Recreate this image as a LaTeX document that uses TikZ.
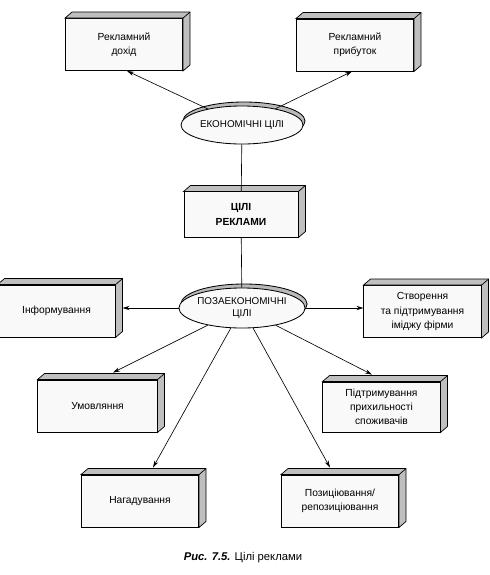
\documentclass[tikz,border=0pt]{standalone}
\usepackage{fontspec}
\setmainfont{Liberation Sans}
\usetikzlibrary{arrows.meta,shapes.geometric,shadows}
\newcommand\slab[1]{\filldraw[side] (#1.north west)--([shift={(7,-6)}]#1.north west)--([shift={(7,-6)}]#1.north east)--([shift={(7,-6)}]#1.south east)--(#1.south east)--(#1.north east)--cycle;
\draw[line width=.5pt] (#1.north east)--([shift={(7,-6)}]#1.north east);}
\begin{document}
\begin{tikzpicture}[x=.025cm,y=-.025cm,
  box/.style={draw,fill=gray!5,line width=.6pt,align=center,inner sep=1pt,font=\fontsize{7.3}{10}\selectfont,minimum width=2.93cm,minimum height=1.3cm},
  goal/.style={ellipse,draw,fill=gray!5,line width=.6pt,inner sep=0pt,align=center,font=\fontsize{7}{9}\selectfont,minimum width=3.05cm,copy shadow={shadow xshift=.5mm,shadow yshift=1mm,fill=gray!55}},
  arr/.style={-{Stealth[length=5pt,width=3pt]},line width=.45pt},
  side/.style={fill=gray!50,draw,line width=.5pt}]
\useasboundingbox (0,0) rectangle (490,575);
\node[goal,minimum height=.95cm] (ekon) at (242,125) {ЕКОНОМІЧНІ ЦІЛІ};
\node[goal,minimum height=1cm] (pozaek) at (242,308) {ПОЗАЕКОНОМІЧНІ\\ЦІЛІ};
\node[box] (dohid) at (124,44.5) {Рекламний\\дохід};\slab{dohid}
\node[box] (prybut) at (355,45) {Рекламний\\прибуток};\slab{prybut}
\node[box,minimum width=2.85cm,minimum height=1.13cm,font=\bfseries\fontsize{7.3}{10}\selectfont] (tsili) at (241,214.5) {ЦІЛІ\\РЕКЛАМИ};\slab{tsili}
\node[box] (inform) at (56.5,311) {Інформування};\slab{inform}
\node[box] (stvor) at (422.5,311.5) {Створення\\та підтримування\\іміджу фірми};\slab{stvor}
\node[box,minimum width=2.98cm] (umovl) at (97.5,406) {Умовляння};\slab{umovl}
\node[box,minimum height=1.25cm] (pidtr) at (381.5,407) {Підтримування\\прихильності\\споживачів};\slab{pidtr}
\node[box] (nagad) at (140,501) {Нагадування};\slab{nagad}
\node[box] (pozit) at (340,501) {Позиціювання/\\репозиціювання};\slab{pozit}
\coordinate (inform-r) at ([shift={(7,0)}]inform.east);
\draw[line width=.45pt] (ekon)--(tsili);\draw[line width=.45pt] (tsili)--(pozaek);
\draw[arr] (ekon)--([shift={(3,0)}]dohid.south);
\draw[arr] (ekon)--([shift={(-3,0)}]prybut.south);
\draw[arr] (pozaek.west)--(pozaek.west-|inform-r);
\draw[arr] (pozaek.east)--(pozaek.east-|stvor.west);
\draw[arr] (pozaek)--([shift={(15.5,-7)}]umovl.north);
\draw[arr] (pozaek)--([shift={(-9.5,-7)}]pidtr.north);
\draw[arr] (pozaek)--([shift={(13,-7)}]nagad.north);
\draw[arr] (pozaek)--([shift={(-10,-7)}]pozit.north);
\node[font=\fontsize{8}{10}\selectfont] (cap) at (243,558) {\textbf{\textit{Рис. 7.5.}} Цілі реклами};
\end{tikzpicture}
\end{document}
